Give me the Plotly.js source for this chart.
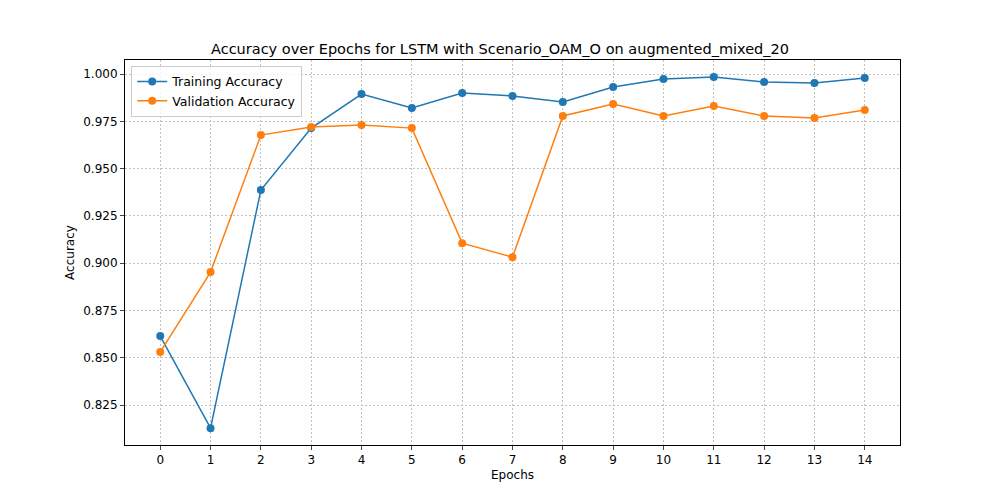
<!DOCTYPE html>
<html><head><script src="https://cdn.plot.ly/plotly-3.0.1.min.js"></script>
<style>body{margin:0}</style></head><body>
<div id="c" style="width:1000px;height:500px"></div>
<script>
const epochs=[0,1,2,3,4,5,6,7,8,9,10,11,12,13,14];
const trainAcc=[0.8615,0.8128,0.9387,0.9714,0.9894,0.982,0.990,0.9884,0.9852,0.9931,0.9974,0.9984,0.9958,0.9952,0.9979];
const valAcc=[0.853,0.8953,0.9677,0.972,0.973,0.9714,0.9106,0.9032,0.9778,0.9841,0.9778,0.9831,0.9778,0.9767,0.981];
const yTicks=[0.825,0.85,0.875,0.9,0.925,0.95,0.975,1.0];
const mk=(y,n,c)=>({x:epochs,y:y,name:n,mode:'lines+markers',line:{color:c,width:1.5},marker:{color:c,size:8}});
Plotly.newPlot('c',[mk(trainAcc,'Training Accuracy','#1f77b4'),mk(valAcc,'Validation Accuracy','#ff7f0e')],{
 width:1000,height:500,paper_bgcolor:'white',plot_bgcolor:'white',
 font:{family:'DejaVu Sans',size:12,color:'black'},
 margin:{l:125,r:100,t:60,b:55},
 title:{text:'Accuracy over Epochs for LSTM with Scenario_OAM_O on augmented_mixed_20',x:0.5,xanchor:'center',yref:'paper',y:1,yanchor:'bottom',pad:{b:6},font:{size:14.5}},
 xaxis:{title:{text:'Epochs',standoff:4,font:{size:12}},range:[-0.7,14.7],tickvals:epochs,showgrid:true,gridcolor:'#c0c0c0',griddash:'2px,2px',gridwidth:0.6,zeroline:false,showline:true,mirror:true,linecolor:'black',ticks:'outside',ticklen:4},
 yaxis:{title:{text:'Accuracy',standoff:6,font:{size:12}},range:[0.8039,1.0074],tickvals:yTicks,tickformat:'.3f',showgrid:true,gridcolor:'#c0c0c0',griddash:'2px,2px',gridwidth:0.6,zeroline:false,showline:true,mirror:true,linecolor:'black',ticks:'outside',ticklen:4},
 legend:{x:0.008,y:0.985,xanchor:'left',yanchor:'top',bordercolor:'#ccc',borderwidth:1,bgcolor:'rgba(255,255,255,0.8)',font:{size:12.5}},
 showlegend:true
},{displayModeBar:false});
</script></body></html>
